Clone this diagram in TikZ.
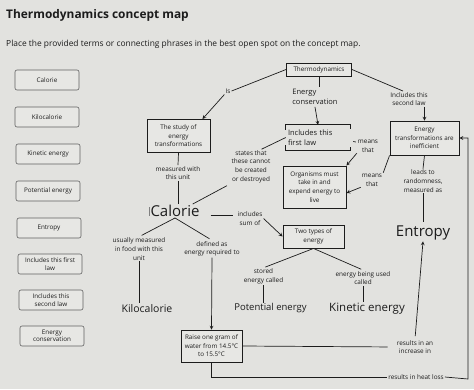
\documentclass[tikz,border=0pt]{standalone}
\usepackage{fontspec}
\setmainfont{Open Sans}
\usepackage{tikz}
\usetikzlibrary{arrows,positioning,calc}
\definecolor{paper}{RGB}{226,226,223}
\definecolor{boxfill}{RGB}{231,231,228}
\definecolor{ink}{RGB}{28,28,28}

\begin{document}
\begin{tikzpicture}[x=1pt, y=-1pt, >=stealth]
        \tikzset{
            term/.style={draw=gray!75!black, fill=boxfill, rectangle, rounded corners=2pt, minimum width=64pt, minimum height=20pt, align=center, font=\fontsize{6.3}{7.4}\selectfont, line width=0.6pt, inner sep=1pt, text=ink},
            mapbox/.style={draw=ink, fill=boxfill, rectangle, align=center, font=\fontsize{6.3}{8.6}\selectfont, line width=0.9pt, inner sep=1pt, text=ink},
            phrase/.style={align=center, font=\fontsize{6.4}{8.6}\selectfont, inner sep=1pt, text=ink},
            dropin/.style={align=left, font=\fontsize{7.5}{10}\selectfont, inner sep=2pt, text=ink},
            bigword/.style={font=\fontsize{15}{18}\selectfont, inner sep=1pt, text=ink},
            link/.style={draw=ink, line width=0.7pt},
            arrowlink/.style={draw=ink, ->, line width=0.7pt}
        }
        \useasboundingbox (0,0) rectangle (474,389);
        \fill[paper] (0,0) rectangle (474,389);

        % Heading
        \node[anchor=west, font=\fontsize{11.9}{13}\bfseries, text=ink, inner sep=0pt] (title) at (6,15) {Thermodynamics concept map};
        \node[anchor=west, font=\fontsize{8.4}{9}\selectfont, text=ink, inner sep=0pt] (task) at (6,44) {Place the provided terms or connecting phrases in the best open spot on the concept map.};

        % Terms to place
        \node[term] (tcal) at (47,80) {Calorie};
        \node[term] (tkilo) at (47,117) {Kilocalorie};
        \node[term] (tkin) at (48,154) {Kinetic energy};
        \node[term] (tpot) at (48,191) {Potential energy};
        \node[term] (tent) at (49,228) {Entropy};
        \node[term] (tfirst) at (50,264) {Includes this first\\law};
        \node[term] (tsecond) at (51,300) {Includes this\\second law};
        \node[term] (tcons) at (52,336) {Energy\\conservation};

        % Concept map boxes
        \node[mapbox, minimum width=65pt, minimum height=13pt] (thermo) at (319,69.5) {Thermodynamics};
        \node[mapbox, minimum width=63pt, minimum height=33pt] (study) at (178.5,136) {The study of\\energy\\transformations};
        \node[mapbox, minimum width=69pt, minimum height=34pt] (effic) at (424.5,138) {Energy\\transformations are\\inefficient};
        \node[mapbox, minimum width=63pt, minimum height=42pt] (organisms) at (314.5,187) {Organisms must\\take in and\\expend energy to\\live};
        \node[mapbox, minimum width=61pt, minimum height=23pt] (twotypes) at (313.5,236.5) {Two types of\\energy};
        \node[mapbox, minimum width=61pt, minimum height=32pt] (raise) at (211.5,346) {Raise one gram of\\water from 14.5°C\\to 15.5°C};

        % Filled-in terms
        \node[dropin] (econs) at (315,97) {Energy\\conservation};
        \node[dropin, text width=60pt, minimum height=25pt] (first) at (318,137.5) {Includes this\\first law};
        \node[bigword] (calorie) at (175,211) {Calorie};
        \node[bigword] (entropy) at (423,233) {Entropy};
        \node[font=\fontsize{10.5}{12}\selectfont, text=ink, inner sep=1pt] (kilo) at (147,308.5) {Kilocalorie};
        \node[font=\fontsize{9.5}{12}\selectfont, text=ink, inner sep=1pt] (potential) at (270.5,308.5) {Potential energy};
        \node[font=\fontsize{11.5}{13}\selectfont, text=ink, inner sep=1pt] (kinetic) at (367,309) {Kinetic energy};

        % Linking phrases
        \node[phrase] (is) at (228,91) {Is};
        \node[phrase] (second) at (409,99) {Includes this\\second law};
        \node[phrase] (means1) at (368,146) {means\\that};
        \node[phrase] (states) at (251,166.5) {states that\\these cannot\\be created\\or destroyed};
        \node[phrase] (measured) at (178,173) {measured with\\this unit};
        \node[phrase] (means2) at (372,180) {means\\that};
        \node[phrase] (leads) at (423,181) {leads to\\randomness,\\measured as};
        \node[phrase] (includes) at (250,218.5) {includes\\sum of};
        \node[phrase] (usually) at (139,249) {usually measured\\in food with this\\unit};
        \node[phrase] (defined) at (212,249) {defined as\\energy required to};
        \node[phrase] (stored) at (263.5,276.5) {stored\\energy called};
        \node[phrase] (being) at (363,278) {energy being used\\called};
        \node[phrase] (increase) at (415,347) {results in an\\increase in};
        \node[phrase] (heatloss) at (416,377) {results in heat loss};
        \coordinate (rcorner) at (468,379);

        % Open spot around the first law
        \path[link] ([yshift=-5pt]first.north west) -- (first.north west) -- (first.north east) -- ([yshift=-4pt]first.north east);
        \path[link] ([yshift=5pt]first.south west) -- (first.south west) -- (first.south east) -- ([yshift=3pt]first.south east);
        \draw[gray, line width=0.4pt] ([xshift=1pt,yshift=-3pt]calorie.north west) -- ([yshift=-3pt]calorie.north west) -- ([yshift=3pt]calorie.south west) -- ([xshift=1pt,yshift=3pt]calorie.south west);

        % Top of the map
        \path[link] (thermo.west) -- (is.east);
        \path[arrowlink] (is.south west) -- ([xshift=-8pt]study.north east);
        \path[link] (thermo.south) -- (thermo.south |- econs.north);
        \path[arrowlink] (econs.south) -- (first.north);
        \path[link] (thermo.east) -- ([xshift=-6pt]second.north);
        \path[arrowlink] (second.south -| effic.north) -- (effic.north);

        % First law branch
        \path[link] (first.west) -- ([xshift=-10pt]states.north east);
        \path[link, shorten <=4pt] (states.south west) -- ([xshift=-8pt]calorie.north east);
        \path[link] ([xshift=3pt,yshift=-4pt]first.east) -- ([xshift=-1pt,yshift=4pt]means1.west);
        \path[arrowlink] (means1.south west) -- (organisms.north east);
        \path[link] (effic.south west) -- (means2.north east);
        \path[arrowlink] (means2.south west) -- ([yshift=-6pt]organisms.east);
        \path[link] (effic.south) -- (leads.north);
        \path[link, shorten >=3pt] (leads.south) -- (entropy.north);

        % Calorie branch
        \path[link] (study.south) -- (measured.north);
        \path[link] (measured.south) -- (measured.south |- calorie.north);
        \path[link, shorten >=3pt] (calorie.south) -- (usually.north);
        \path[link, shorten >=3pt] (calorie.south) -- (defined.north);
        \path[link] (usually.south) -- (usually.south |- kilo.north);
        \path[arrowlink] (defined.south) -- (raise.north);
        \path[link, shorten <=10pt, shorten >=3pt] ([yshift=-4pt]calorie.east) -- ([yshift=-4pt]calorie.east -| includes.west);
        \path[arrowlink] (includes.east) -- (twotypes.west);

        % Two types of energy
        \path[link, shorten >=2pt] (twotypes.south) -- (stored.north);
        \path[link, shorten >=2pt] (twotypes.south) -- (being.north);
        \path[link] (stored.south) -- (stored.south |- potential.north);
        \path[link] (being.south) -- (being.south |- kinetic.north);

        % Results of the raise
        \path[link, shorten >=8pt] (raise.east) -- (increase.west);
        \path[arrowlink, shorten <=3pt] (increase.north) -- (entropy.south);
        \path[link] (raise.south) |- (heatloss.west);
        \path[arrowlink] (heatloss.east) -- (rcorner) |- (effic.east);

    \end{tikzpicture}
\end{document}
